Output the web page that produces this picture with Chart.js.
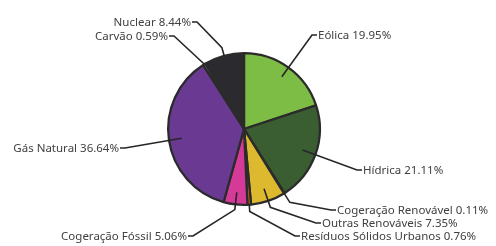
<!DOCTYPE html>
<html>
<head>
<meta charset="utf-8">
<script src="https://cdn.jsdelivr.net/npm/chart.js@4.4.1/dist/chart.umd.min.js"></script>
<style>
  html, body { margin: 0; padding: 0; background: #fff; }
</style>
</head>
<body>
<canvas id="matriz" width="496" height="246"></canvas>
<script>
// dados do gráfico
const categories = ['Eólica', 'Hídrica', 'Cogeração Renovável', 'Outras Renováveis',
    'Resíduos Sólidos Urbanos', 'Cogeração Fóssil', 'Gás Natural', 'Carvão', 'Nuclear'];
const shares = [19.95, 21.11, 0.11, 7.35, 0.76, 5.06, 36.64, 0.59, 8.44];
const sliceColors = ['#7ebd45', '#3a5e31', '#4aa3c8', '#dcb92f',
    '#dd6a1f', '#d53a98', '#6a3a93', '#8a8a8a', '#2b2a2e'];

// posição dos rótulos (relativa ao centro da pizza, em px)
const labelLayout = [
    { dx: 74, dy: -93, align: 'left', inner: 0.85 },
    { dx: 119, dy: 42, align: 'left', inner: 0.82 },
    { dx: 93, dy: 82, align: 'left', inner: 1.0, elbow: 1.14 },
    { dx: 78, dy: 95, align: 'left', inner: 0.83, elbow: 1.09 },
    { dx: 57, dy: 108, align: 'left', inner: 1.0, elbow: 1.09 },
    { dx: -57, dy: 108, align: 'right', inner: 0.84, elbow: 1.07 },
    { dx: -125, dy: 20, align: 'right', inner: 0.83 },
    { dx: -76, dy: -92, align: 'right', inner: 1.0 },
    { dx: -53, dy: -106, align: 'right', inner: 1.0, elbow: 1.11 }
];

// Plugin para desenhar rótulos fora da pizza com linhas de chamada
const outsideLabels = {
    id: 'outsideLabels',
    afterDatasetsDraw(chart) {
        const ctx = chart.ctx;
        const arcs = chart.getDatasetMeta(0).data;
        ctx.save();
        ctx.font = '11.5px "Noto Sans"';
        ctx.textBaseline = 'middle';
        arcs.forEach((arc, i) => {
            const cfg = labelLayout[i];
            const mid = (arc.startAngle + arc.endAngle) / 2;
            const r = arc.outerRadius;
            const cx = arc.x, cy = arc.y;
            const tx = cx + cfg.dx, ty = cy + cfg.dy;
            const dir = cfg.align === 'left' ? -1 : 1;

            // linha de chamada
            ctx.beginPath();
            ctx.strokeStyle = '#262626';
            ctx.lineWidth = 1.6;
            ctx.moveTo(cx + Math.cos(mid) * r * cfg.inner, cy + Math.sin(mid) * r * cfg.inner);
            if (cfg.elbow) {
                ctx.lineTo(cx + Math.cos(mid) * r * cfg.elbow, cy + Math.sin(mid) * r * cfg.elbow);
            }
            ctx.lineTo(tx + dir * 6, ty - 1);
            ctx.lineTo(tx + dir * 1, ty - 1);
            ctx.stroke();

            // texto
            ctx.fillStyle = '#404040';
            ctx.textAlign = cfg.align;
            ctx.fillText(`${categories[i]} ${shares[i].toFixed(2)}%`, tx, ty);
        });
        ctx.restore();
    }
};

new Chart(document.getElementById('matriz'), {
    type: 'pie',
    data: {
        labels: categories,
        datasets: [{
            data: shares,
            backgroundColor: sliceColors,
            borderColor: '#2b2b2b',
            borderWidth: 2.3
        }]
    },
    options: {
        responsive: false,
        animation: false,
        layout: {
            padding: { left: 167, right: 175, top: 52, bottom: 40 }
        },
        plugins: {
            legend: { display: false },
            tooltip: { enabled: false }
        }
    },
    plugins: [outsideLabels]
});
</script>
</body>
</html>
